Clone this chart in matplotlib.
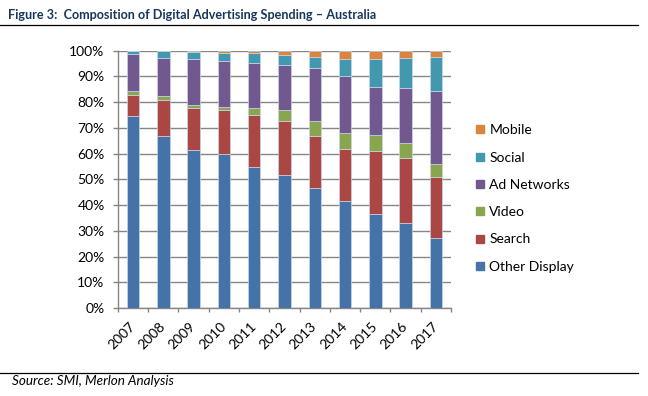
import numpy as np
import matplotlib.pyplot as plt
import matplotlib as mpl
from matplotlib.lines import Line2D

mpl.rcParams.update({
    'font.family': ['Lato', 'DejaVu Sans'],
})

years = ['2007', '2008', '2009', '2010', '2011', '2012', '2013', '2014', '2015', '2016', '2017']

other_display = [74.6, 66.9, 61.5, 59.9, 54.7, 51.6, 46.7, 41.5, 36.7, 33.2, 27.1]
search = [8.2, 13.9, 16.3, 17.1, 20.3, 21.2, 20.2, 20.4, 24.3, 25.0, 23.8]
video = [1.5, 1.6, 1.0, 1.1, 2.8, 4.1, 5.6, 6.1, 6.2, 5.8, 4.9]
ad_networks = [14.5, 14.6, 18.0, 17.9, 17.5, 17.4, 20.8, 22.2, 18.8, 21.6, 28.5]
social = [1.0, 2.7, 2.7, 3.2, 3.7, 3.9, 4.1, 6.6, 10.6, 11.7, 13.1]
mobile = [0.2, 0.3, 0.5, 0.8, 1.0, 1.8, 2.6, 3.2, 3.4, 2.7, 2.6]

series = [
    ('Other Display', other_display, '#4572A7'),
    ('Search', search, '#AA4643'),
    ('Video', video, '#89A54E'),
    ('Ad Networks', ad_networks, '#71588F'),
    ('Social', social, '#4198AF'),
    ('Mobile', mobile, '#DB843D'),
]

grid_c = '#868686'

fig = plt.figure(figsize=(6.48, 3.96), dpi=100)
ax = fig.add_axes([0.182, 0.222, 0.514, 0.650])

x = np.arange(len(years))
bottom = np.zeros(len(years))
handles = []
for name, vals, col in series:
    vals = np.array(vals)
    ax.bar(x, vals, width=0.41, bottom=bottom, color=col,
           edgecolor='#C9D6E8', linewidth=0.5, zorder=3, label=name)
    bottom += vals
    handles.append(Line2D([], [], marker='s', linestyle='none', markersize=6,
                          markerfacecolor=col, markeredgecolor=col, label=name))

ax.set_xlim(-0.5, len(years) - 0.5)
ax.set_ylim(0, 100)
ax.set_yticks(np.arange(0, 101, 10))
ax.set_yticklabels([f'{v}%' for v in range(0, 101, 10)])
ax.yaxis.grid(True, color=grid_c, linewidth=1.0, zorder=0)
ax.set_axisbelow(True)

ax.set_xticks(x)
ax.set_xticklabels(years, rotation=45, ha='right', va='center', rotation_mode='anchor')
ax.set_xticks(np.arange(len(years) + 1) - 0.5, minor=True)
ax.tick_params(axis='x', which='major', length=0, pad=12, labelsize=10)
ax.tick_params(axis='x', which='minor', length=3, color=grid_c, width=1.0)
ax.tick_params(axis='y', length=3.6, color=grid_c, width=1.0, labelsize=10, pad=6)

for s in ['top', 'right']:
    ax.spines[s].set_visible(False)
for s in ['left', 'bottom']:
    ax.spines[s].set_color(grid_c)
    ax.spines[s].set_linewidth(1.0)

leg = fig.legend(handles=handles[::-1], loc='upper left', bbox_to_anchor=(0.724, 0.700),
                 frameon=False, fontsize=10, handlelength=0.7, handletextpad=0.35,
                 labelspacing=1.1, borderaxespad=0)

fig.text(0.012, 0.962, 'Figure 3:  Composition of Digital Advertising Spending \u2013 Australia',
         fontsize=9.1, fontweight='bold', color='#17375E', va='center', ha='left')
fig.add_artist(Line2D([0.0, 0.985], [0.938, 0.938], color='black', linewidth=0.9))
fig.add_artist(Line2D([0.0, 0.985], [0.059, 0.059], color='black', linewidth=0.9))
fig.text(0.018, 0.037, 'Source: SMI, Merlon Analysis', fontsize=9.7, style='italic',
         color='black', va='center', ha='left')

fig.savefig('out.png', dpi=100)
